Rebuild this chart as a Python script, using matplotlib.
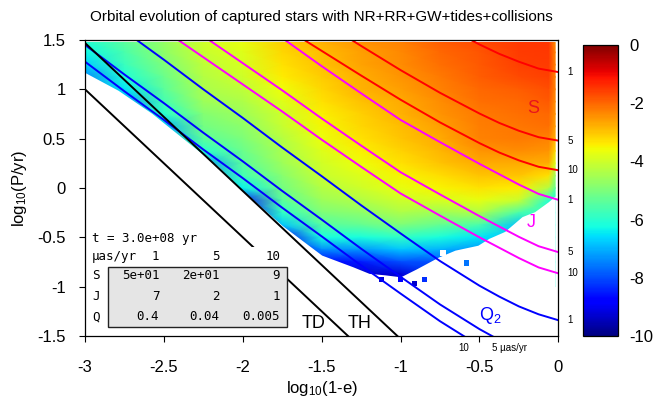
import numpy as np
import matplotlib
matplotlib.use("Agg")
import matplotlib.pyplot as plt
from matplotlib.patches import Rectangle
import matplotlib.transforms as mtransforms
from matplotlib.ticker import FuncFormatter

plt.rcParams['font.family'] = ['Liberation Sans', 'DejaVu Sans']
plt.rcParams['mathtext.fontset'] = 'custom'
plt.rcParams['mathtext.rm'] = 'Liberation Sans'
plt.rcParams['mathtext.it'] = 'Liberation Sans:italic'
plt.rcParams['axes.unicode_minus'] = False

nan = np.nan

# ---------------- heat map (log10 of density), read per column ----------------
grid_x = [-3.0, -2.75, -2.5, -2.25, -2.0, -1.75, -1.5, -1.25, -1.0, -0.75, -0.5, -0.25, -0.06, -0.02]
grid_y = [1.475, 1.375, 1.25, 1.125, 1.0, 0.875, 0.75, 0.625, 0.5, 0.375, 0.25,
          0.125, 0.0, -0.125, -0.25, -0.375, -0.5, -0.625, -0.75, -0.875, -1.0]

col_m300 = [-6.1, -6.3, -6.7, -7.4]
col_m275 = [-5.4, -5.6, -5.8, -6.1, -6.5, -7.2]
col_m250 = [-4.7, -4.8, -5.0, -5.2, -5.4, -5.7, -6.0, -7.0]
col_m225 = [-4.0, -4.1, -4.2, -4.3, -4.45, -4.6, -4.9, -5.1, -5.4, -6.0, -7.2]
col_m200 = [-3.7, -3.8, -3.9, -4.0, -4.2, -4.4, -4.6, -4.8, -5.0, -5.2, -5.4, -5.7, -6.4, -8.5]
col_m175 = [-3.1, -3.2, -3.3, -3.4, -3.6, -3.8, -4.0, -4.1, -4.3, -4.45, -4.6, -4.85, -5.1, -5.4, -5.9, -6.8, -8.8]
col_m150 = [-2.8, -2.9, -2.95, -3.05, -3.2, -3.3, -3.45, -3.55, -3.65, -3.8, -3.95, -4.1, -4.3, -4.6, -5.0, -5.5, -6.2, -7.4, -8.9]
col_m125 = [-2.5, -2.6, -2.65, -2.75, -2.8, -2.95, -3.1, -3.2, -3.3, -3.45, -3.6, -3.8, -4.0, -4.35, -4.8, -5.3, -6.2, -7.3, -8.5, -9.3]
col_m100 = [-2.3, -2.35, -2.4, -2.5, -2.6, -2.7, -2.8, -2.9, -3.0, -3.15, -3.3, -3.5, -3.7, -4.0, -4.4, -5.0, -5.9, -6.8, -8.0, -9.2, -9.5]
col_m075 = [-1.9, -2.0, -2.1, -2.2, -2.3, -2.4, -2.5, -2.6, -2.7, -2.85, -3.0, -3.25, -3.5, -3.9, -4.6, -5.3, -6.2, -7.0, -8.0]
col_m050 = [-1.7, -1.8, -1.85, -1.9, -2.0, -2.1, -2.2, -2.25, -2.3, -2.5, -2.7, -3.0, -3.3, -3.7, -4.4, -5.6, -6.5, -7.3]
col_m025 = [-1.5, -1.55, -1.6, -1.7, -1.9, -2.0, -2.1, -2.15, -2.2, -2.4, -2.7, -3.0, -3.4, -4.1, -5.6, -6.8]
col_m006 = [-1.45, -1.5, -1.55, -1.6, -1.75, -1.85, -2.0, -2.1, -2.3, -2.5, -2.75, -3.3, -4.3, -6.0]
col_m002 = [-2.4, -2.3, -2.3, -2.3, -2.3, -2.4, -2.5, -2.6, -2.8, -3.2, -3.8, -4.6, -5.3, -6.2]
heat_columns = [col_m300, col_m275, col_m250, col_m225, col_m200, col_m175, col_m150,
                col_m125, col_m100, col_m075, col_m050, col_m025, col_m006, col_m002]

# lower edge of the populated region
edge_x = [-3.0, -2.79, -2.577, -2.366, -2.155, -2.03, -1.75, -1.5, -1.3, -1.2, -1.1, -1.0,
          -0.9, -0.76, -0.655, -0.51, -0.44, -0.34, -0.23, -0.15, -0.064, -0.02]
edge_y = [1.17, 0.99, 0.757, 0.486, 0.216, 0.013, -0.38, -0.68, -0.80, -0.865, -0.88, -0.90,
          -0.82, -0.70, -0.63, -0.58, -0.51, -0.44, -0.29, -0.24, -0.14, -0.08]

# isolated cells outside the main region
stray_x = [-1.12, -1.0, -0.91, -0.85, -0.58]
stray_y = [-0.93, -0.93, -0.97, -0.93, -0.76]
stray_v = [-9.2, -8.8, -9.3, -8.3, -7.6]
hole_x = [-0.73]
hole_y = [-0.66]

# ---------------- curves: constant astrometric signal (1, 5, 10 uas/yr) ----------------
sx = [-1.75, -1.5, -1.25, -1.0, -0.75, -0.5, -0.375, -0.25, -0.125, 0.0]
S1 = [2.64, 2.39, 2.14, 1.895, 1.665, 1.455, 1.36, 1.28, 1.21, 1.175]
S5 = [1.94, 1.69, 1.44, 1.195, 0.965, 0.755, 0.66, 0.58, 0.515, 0.48]
S10 = [1.64, 1.39, 1.14, 0.895, 0.665, 0.455, 0.36, 0.28, 0.215, 0.18]

jx = [-2.5, -2.25, -2.0, -1.75, -1.5, -1.25, -1.0, -0.75, -0.5, -0.375, -0.25, -0.125, 0.0]
J1 = [2.345, 2.07, 1.795, 1.52, 1.235, 0.96, 0.69, 0.465, 0.245, 0.14, 0.035, -0.06, -0.12]
J5 = [1.815, 1.54, 1.265, 0.99, 0.705, 0.43, 0.16, -0.065, -0.285, -0.39, -0.495, -0.59, -0.65]
J10 = [1.60, 1.325, 1.05, 0.775, 0.49, 0.215, -0.055, -0.28, -0.50, -0.605, -0.71, -0.805, -0.865]

qx = [-3.0, -2.75, -2.5, -2.25, -2.0, -1.75, -1.5, -1.25, -1.0, -0.75, -0.5, -0.375, -0.25, -0.125, 0.0]
Q1 = [1.89, 1.59, 1.30, 1.00, 0.71, 0.41, 0.12, -0.175, -0.46, -0.74, -0.99, -1.10, -1.20, -1.28, -1.34]
Q5 = [1.45, 1.15, 0.86, 0.56, 0.27, -0.03, -0.32, -0.615, -0.90, -1.18, -1.43, -1.54, -1.64, -1.72, -1.78]
Q10 = [1.28, 0.98, 0.69, 0.39, 0.10, -0.20, -0.49, -0.785, -1.07, -1.35, -1.60, -1.71, -1.81, -1.89, -1.95]

# tidal disruption / tidal heating limits
TD_x = [-3.0, -1.333]
TD_y = [1.0, -1.5]
TH_x = [-3.0, -1.02]
TH_y = [1.47, -1.5]

# table
table_time = "t = 3.0e+08 yr"
table_cols = ["1", "5", "10"]
table_rows = ["S", "J", "Q"]
table_vals = [["5e+01", "2e+01", "9"], ["7", "2", "1"], ["0.4", "0.04", "0.005"]]

title = "Orbital evolution of captured stars with NR+RR+GW+tides+collisions"
cbar_ticks = [0, -2, -4, -6, -8, -10]

# ---------------- figure ----------------
fig = plt.figure(figsize=(6.55, 4.0), dpi=100)
ax = fig.add_axes([0.1298, 0.16, 0.7226, 0.74])
cax = fig.add_axes([0.8896, 0.16, 0.0544, 0.7275])

Z = np.full((len(grid_y), len(grid_x)), nan)
for j, col in enumerate(heat_columns):
    Z[:len(col), j] = col
    Z[len(col):, j] = col[-1]          # hidden below the edge mask
X, Y = np.meshgrid(grid_x, grid_y)
mesh = ax.pcolormesh(X, Y, Z, shading='gouraud', cmap='jet', vmin=-10, vmax=0, zorder=1)

ax.fill_between(edge_x, edge_y, -1.6, color='white', lw=0, zorder=2)
ax.scatter(stray_x, stray_y, c=stray_v, cmap='jet', vmin=-10, vmax=0, marker='s',
           s=14, lw=0, zorder=2.5)
ax.scatter(hole_x, hole_y, c='white', marker='s', s=18, lw=0, zorder=2.5)

lw = 1.4
for yv in (S1, S5, S10):
    ax.plot(sx, yv, color='#ff0000', lw=lw, zorder=4)
for yv in (J1, J5, J10):
    ax.plot(jx, yv, color='#ff00ff', lw=lw, zorder=4)
for yv in (Q1, Q5, Q10):
    ax.plot(qx, yv, color='#0000ff', lw=lw, zorder=4)
ax.plot(TD_x, TD_y, color='black', lw=lw, zorder=4)
ax.plot(TH_x, TH_y, color='black', lw=lw, zorder=4)

ax.set_xlim(-3, 0)
ax.set_ylim(-1.5, 1.5)

# right-hand level labels at line ends
rtrans = mtransforms.blended_transform_factory(ax.transAxes, ax.transData)
for yv, lab in [(S1, "1"), (S5, "5"), (S10, "10"), (J1, "1"), (J5, "5"), (J10, "10"), (Q1, "1")]:
    ax.text(1.02, yv[-1], lab, transform=rtrans, fontsize=7, ha='left', va='center', clip_on=False)
# bottom labels where Q lines leave the plot
btrans = mtransforms.blended_transform_factory(ax.transData, ax.transAxes)
q10_x = np.interp(-1.5, Q10[::-1], qx[::-1])
q5_x = np.interp(-1.5, Q5[::-1], qx[::-1])
ax.text(q10_x, -0.04, "10", transform=btrans, fontsize=7, ha='center', va='center', clip_on=False)
ax.text(q5_x, -0.04, "5 \u00b5as/yr", transform=btrans, fontsize=7, ha='left', va='center', clip_on=False)

ax.text(-0.157, 0.81, "S", color='#e8141c', fontsize=13, ha='center', va='center', zorder=5)
ax.text(-0.169, -0.35, "J", color='#ff00ff', fontsize=13, ha='center', va='center', zorder=5)
ax.text(-0.434, -1.29, "Q$_2$", color='#0000ff', fontsize=13, ha='center', va='center', zorder=5)
ax.text(-1.553, -1.371, "TD", color='black', fontsize=13, ha='center', va='center', zorder=5)
ax.text(-1.257, -1.371, "TH", color='black', fontsize=13, ha='center', va='center', zorder=5)

# table
ax.add_patch(Rectangle((0.002, 0.03), 0.425, 0.27, transform=ax.transAxes,
                       facecolor='white', edgecolor='none', zorder=6))
ax.add_patch(Rectangle((0.0479, 0.0314), 0.3782, 0.2007, transform=ax.transAxes,
                       facecolor='#e5e5e5', edgecolor='#222222', lw=1.0, zorder=7))
mono = dict(family='DejaVu Sans Mono', fontsize=9, transform=ax.transAxes, zorder=8, va='center')
ax.text(0.0148, 0.330, table_time, ha='left', **mono)
ax.text(0.0148, 0.269, "\u00b5as/yr", ha='left', **mono)
col_right = [0.1566, 0.2840, 0.4120]
row_y = [0.204, 0.133, 0.065]
for cx, lab in zip(col_right, table_cols):
    ax.text(cx, 0.269, lab, ha='right', **mono)
for ry, rl, vals in zip(row_y, table_rows, table_vals):
    ax.text(0.0148, ry, rl, ha='left', **mono)
    for cx, v in zip(col_right, vals):
        ax.text(cx, ry, v, ha='right', **mono)

fmt = FuncFormatter(lambda v, p: "%g" % v)
ax.set_xticks(np.arange(-3, 0.01, 0.5))
ax.set_yticks(np.arange(-1.5, 1.51, 0.5))
ax.xaxis.set_major_formatter(fmt)
ax.yaxis.set_major_formatter(fmt)
ax.tick_params(direction='out', length=4, width=0.8, top=False, right=False, labelsize=12)
ax.tick_params(axis='x', pad=13)
ax.tick_params(axis='y', pad=10)
for sp in ax.spines.values():
    sp.set_linewidth(0.9)
    sp.set_zorder(9)

ax.set_xlabel("log$_{10}$(1-e)", fontsize=12, labelpad=3)
ax.set_ylabel("log$_{10}$(P/yr)", fontsize=12, labelpad=6)
ax.set_title(title, fontsize=11, pad=14)

cb = fig.colorbar(mesh, cax=cax, ticks=cbar_ticks)
cb.ax.yaxis.set_major_formatter(fmt)
cb.ax.tick_params(length=0, pad=8, labelsize=12)
cb.outline.set_linewidth(0.9)

fig.savefig("out.png", dpi=100)
